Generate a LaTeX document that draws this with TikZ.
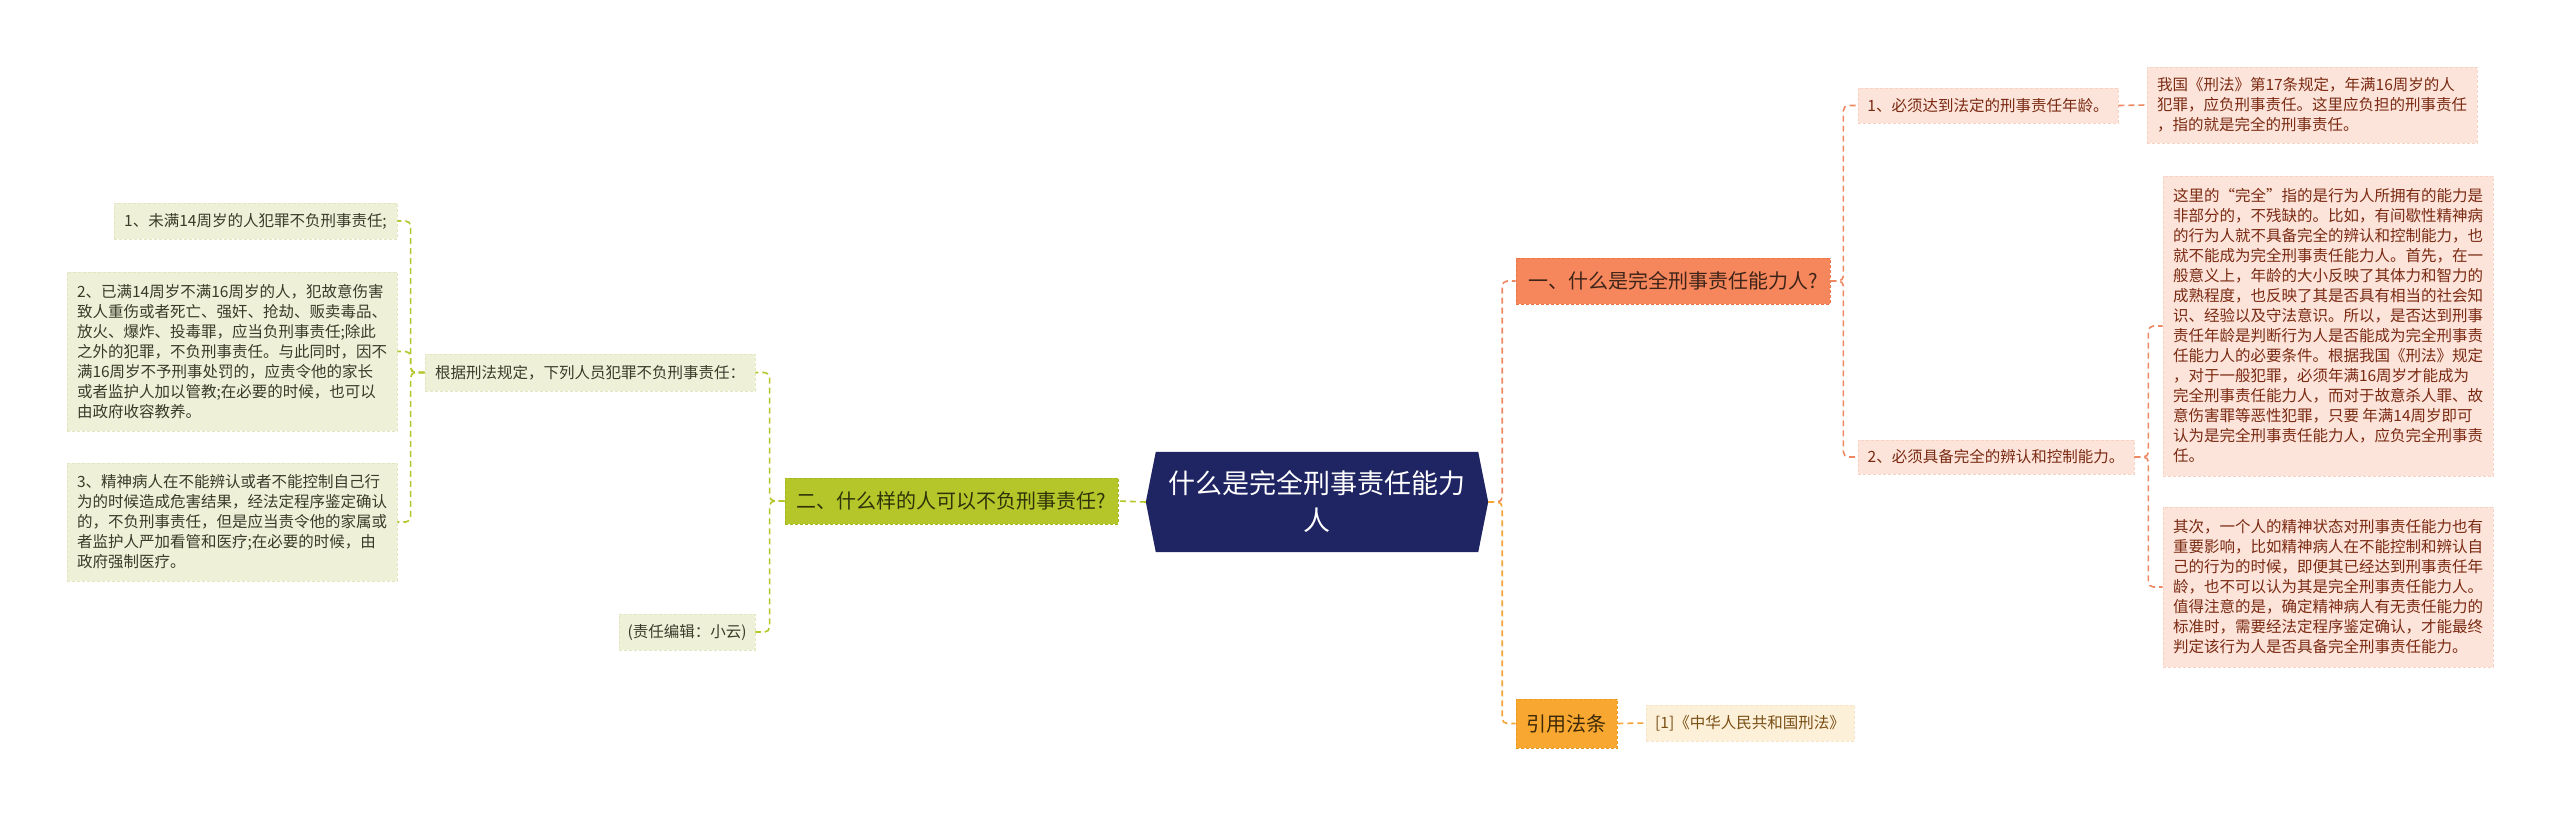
\documentclass[tikz,border=0pt]{standalone}
\usepackage{fontspec}
\setmainfont{Noto Sans CJK SC}
\usetikzlibrary{backgrounds}
\definecolor{navy}{HTML}{1F2463}
\definecolor{bAfill}{HTML}{F6875D}
\definecolor{bAbd}{HTML}{EC7447}
\definecolor{bAtxt}{HTML}{3E2418}
\definecolor{pinkbg}{HTML}{FDE4DA}
\definecolor{pinkbd}{HTML}{F8D2C3}
\definecolor{redtxt}{HTML}{7A2A12}
\definecolor{bAline}{HTML}{EE8863}
\definecolor{bBfill}{HTML}{B4C62A}
\definecolor{bBbd}{HTML}{A5B71E}
\definecolor{bBtxt}{HTML}{2E330A}
\definecolor{greenbg}{HTML}{EEF1D8}
\definecolor{greenbd}{HTML}{E2E7C2}
\definecolor{greentxt}{HTML}{3A3A2A}
\definecolor{bBline}{HTML}{B4C62A}
\definecolor{bCfill}{HTML}{F8A731}
\definecolor{bCbd}{HTML}{EA991E}
\definecolor{bCtxt}{HTML}{3D2A08}
\definecolor{creambg}{HTML}{FDF0D9}
\definecolor{creambd}{HTML}{F8E4C4}
\definecolor{creamtxt}{HTML}{7A4F15}
\definecolor{bCline}{HTML}{F4A53A}
\begin{document}
\begin{tikzpicture}[x=1pt,y=-1pt,
  box/.style={rectangle, inner sep=0pt, align=left, dash pattern=on 3pt off 2pt, line width=0.8pt},
  small/.style={font=\fontsize{15.5}{20}\selectfont},
  big/.style={font=\fontsize{20}{26}\selectfont},
  branchA/.style={box, big, fill=bAfill, draw=bAbd, text=bAtxt},
  branchB/.style={box, big, fill=bBfill, draw=bBbd, text=bBtxt},
  branchC/.style={box, big, fill=bCfill, draw=bCbd, text=bCtxt},
  leafA/.style={box, small, fill=pinkbg, draw=pinkbd, text=redtxt},
  leafB/.style={box, small, fill=greenbg, draw=greenbd, text=greentxt},
  leafC/.style={box, small, fill=creambg, draw=creambd, text=creamtxt},
  link/.style={line width=1.6pt, dash pattern=on 6pt off 4pt, rounded corners=5pt},
  linkA/.style={link, draw=bAline},
  linkB/.style={link, draw=bBline},
  linkC/.style={link, draw=bCline}]
\useasboundingbox (0,0) rectangle (2560,814);

% root
\node[rectangle, inner sep=0pt, minimum width=342pt, minimum height=100pt, align=center,
      text=white, font=\fontsize{27}{37}\selectfont] (root) at (1317,502) {什么是完全刑事责任能力\\人};

% right branch 1
\node[branchA, minimum width=314pt, minimum height=46pt] (b1) at (1673,281) {一、什么是完全刑事责任能力人?};
\node[leafA, minimum width=260pt, minimum height=35pt] (s1) at (1988,105.5) {1、必须达到法定的刑事责任年龄。};
\node[leafA, minimum width=276pt, minimum height=34pt] (s2) at (1996,457) {2、必须具备完全的辨认和控制能力。};
\node[leafA, minimum width=330pt, minimum height=76pt] (a1) at (2312,105) {我国《刑法》第17条规定，年满16周岁的人\\犯罪，应负刑事责任。这里应负担的刑事责任\\，指的就是完全的刑事责任。};
\node[leafA, minimum width=330pt, minimum height=300pt] (a2) at (2328,326) {这里的“完全”指的是行为人所拥有的能力是\\非部分的，不残缺的。比如，有间歇性精神病\\的行为人就不具备完全的辨认和控制能力，也\\就不能成为完全刑事责任能力人。首先，在一\\般意义上，年龄的大小反映了其体力和智力的\\成熟程度，也反映了其是否具有相当的社会知\\识、经验以及守法意识。所以，是否达到刑事\\责任年龄是判断行为人是否能成为完全刑事责\\任能力人的必要条件。根据我国《刑法》规定\\，对于一般犯罪，必须年满16周岁才能成为\\完全刑事责任能力人，而对于故意杀人罪、故\\意伤害罪等恶性犯罪，只要 年满14周岁即可\\认为是完全刑事责任能力人，应负完全刑事责\\任。};
\node[leafA, minimum width=330pt, minimum height=160pt] (a3) at (2328,587) {其次，一个人的精神状态对刑事责任能力也有\\重要影响，比如精神病人在不能控制和辨认自\\己的行为的时候，即便其已经达到刑事责任年\\龄，也不可以认为其是完全刑事责任能力人。\\值得注意的是，确定精神病人有无责任能力的\\标准时，需要经法定程序鉴定确认，才能最终\\判定该行为人是否具备完全刑事责任能力。};

% right branch 3
\node[branchC, minimum width=101pt, minimum height=49pt] (b3) at (1566.5,723.5) {引用法条};
\node[leafC, minimum width=208pt, minimum height=36pt] (r1) at (1750,723) {[1]《中华人民共和国刑法》};

% left branch
\node[branchB, minimum width=333pt, minimum height=46pt] (b2) at (951.5,501) {二、什么样的人可以不负刑事责任?};
\node[leafB, minimum width=330pt, minimum height=37pt] (g1) at (590,372.5) {根据刑法规定，下列人员犯罪不负刑事责任：};
\node[leafB, minimum width=136pt, minimum height=36pt] (g2) at (687,632) {(责任编辑：小云)};
\node[leafB, minimum width=283pt, minimum height=36pt] (l1) at (255.5,221) {1、未满14周岁的人犯罪不负刑事责任;};
\node[leafB, minimum width=330pt, minimum height=159pt] (l2) at (232,351.5) {2、已满14周岁不满16周岁的人，犯故意伤害\\致人重伤或者死亡、强奸、抢劫、贩卖毒品、\\放火、爆炸、投毒罪，应当负刑事责任;除此\\之外的犯罪，不负刑事责任。与此同时，因不\\满16周岁不予刑事处罚的，应责令他的家长\\或者监护人加以管教;在必要的时候，也可以\\由政府收容教养。};
\node[leafB, minimum width=330pt, minimum height=118pt] (l3) at (232,522) {3、精神病人在不能辨认或者不能控制自己行\\为的时候造成危害结果，经法定程序鉴定确认\\的，不负刑事责任，但是应当责令他的家属或\\者监护人严加看管和医疗;在必要的时候，由\\政府强制医疗。};

% connectors
\draw[linkA] (root.east) -- ++(14,0) |- (b1.west);
\draw[linkC] (root.east) -- ++(14,0) |- (b3.west);
\draw[linkA] (b1.east) -- ++(13,0) |- (s1.west);
\draw[linkA] (b1.east) -- ++(13,0) |- (s2.west);
\draw[linkA] (s1.east) -- (a1.west);
\draw[linkA] (s2.east) -- ++(14,0) |- (a2.west);
\draw[linkA] (s2.east) -- ++(14,0) |- (a3.west);
\draw[linkC] (b3.east) -- (r1.west);
\draw[linkB] (root.west) -- (b2.east);
\draw[linkB] (b2.west) -- ++(-15,0) |- (g1.east);
\draw[linkB] (b2.west) -- ++(-15,0) |- (g2.east);
\draw[linkB] (g1.west) -- ++(-14,0) |- (l1.east);
\draw[linkB] (g1.west) -- ++(-14,0) |- (l2.east);
\draw[linkB] (g1.west) -- ++(-14,0) |- (l3.east);

\begin{scope}[on background layer]
\fill[white] (0,0) rectangle (2560,814);
\fill[navy] (root.west) -- ([xshift=10pt]root.north west) -- ([xshift=-10pt]root.north east)
  -- (root.east) -- ([xshift=-10pt]root.south east) -- ([xshift=10pt]root.south west) -- cycle;
\end{scope}
\end{tikzpicture}
\end{document}
